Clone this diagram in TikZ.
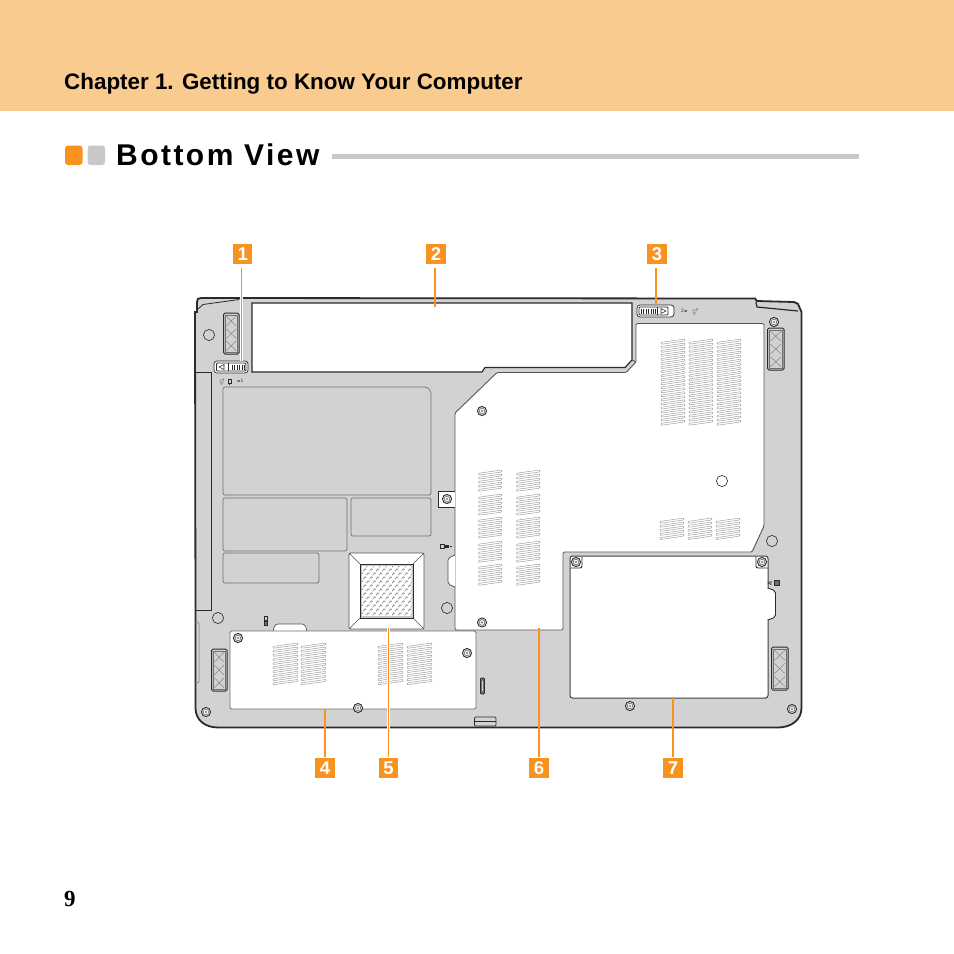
\documentclass[tikz,border=0pt]{standalone}
\usepackage{fontspec}
\setmainfont{Liberation Sans}
\newfontfamily\serifnum{Liberation Serif}
\newfontfamily\symfont{DejaVu Sans}
\definecolor{bandC}{HTML}{FACB8F}
\definecolor{orangeC}{HTML}{F7931E}
\definecolor{bodyC}{HTML}{D2D2D2}
\definecolor{lineC}{HTML}{2A2A2A}
\definecolor{bulletC}{HTML}{C8C8C8}
\definecolor{ventC}{HTML}{707070}
\newcommand{\ventblock}[5]{% x, y top-right, w, n, rise
  \foreach \i in {1,...,#4}{
    \pgfmathsetmacro{\yr}{#2+(\i-1)*4.05}
    \pgfmathsetmacro{\yl}{\yr+#5}
    \draw[ventline] (#1,\yl) -- (#1+#3,\yr) -- (#1+#3,\yr+1.9) -- (#1,\yl+1.9) -- cycle;
  }}
\newcommand{\screwdraw}[2]{%
  \draw[screwout] (#1,#2) circle (4.6);
  \draw[screwin] (#1,#2) circle (2.8);
  \fill[ventC] (#1,#2) circle (1.2);}
\newcommand{\plainhole}[2]{\draw[holeline] (#1,#2) circle (5.6);}
\newcommand{\footpad}[4]{% x1 y1 x2 y2
  \draw[padline] (#1,#2) rectangle (#3,#4);
  \draw[padthin] (#1+1.8,#2+1.8) rectangle (#3-1.8,#4-1.8);
  \pgfmathsetmacro{\hh}{(#4-#2-3.6)/3}
  \foreach \k in {0,1,2}{
    \draw[padcross] (#1+3,#2+1.8+\k*\hh+1.5) -- (#3-3,#2+1.8+\k*\hh+\hh-1.5);
    \draw[padcross] (#3-3,#2+1.8+\k*\hh+1.5) -- (#1+3,#2+1.8+\k*\hh+\hh-1.5);
  }}
\tikzset{
  ventline/.style={draw=ventC!85,line width=.35pt,fill=white,rounded corners=.8pt},
  screwout/.style={draw=lineC,line width=.8pt,fill=bodyC},
  screwin/.style={draw=ventC,line width=.6pt,fill=white},
  holeline/.style={draw=lineC,line width=.6pt,fill=none},
  padline/.style={draw=lineC,line width=1pt,fill=bodyC,rounded corners=1.5pt},
  padthin/.style={draw=ventC,line width=.4pt},
  padcross/.style={draw=ventC,line width=.35pt},
  panel/.style={draw=ventC,line width=.7pt,fill=bodyC,rounded corners=2pt},
  door/.style={draw=lineC!75,line width=.8pt,fill=white,rounded corners=1.5pt},
  numbox/.style={fill=orangeC,text=white,minimum size=19.5pt,inner sep=0pt,font=\bfseries\fontsize{18.5}{18.5}\selectfont},
  leader/.style={draw=orangeC,line width=1.1pt,preaction={draw=white,line width=2.2pt}},
  tinytext/.style={inner sep=0pt,text=lineC,font=\fontsize{5}{5}\selectfont},
}
\begin{document}
\begin{tikzpicture}[x=1pt,y=-1pt]
\useasboundingbox (0,0) rectangle (954,954);
\fill[white] (0,0) rectangle (954,954);
% header
\fill[bandC] (0,0) rectangle (954,111);
\node[anchor=base west,inner sep=0pt,font=\bfseries\fontsize{22.4}{23}\selectfont] (chapter) at (64,89) {Chapter 1. Getting to Know Your Computer};
\fill[orangeC,rounded corners=3pt] (65,145.5) rectangle (82.5,165);
\fill[bulletC,rounded corners=3pt] (87.5,145.5) rectangle (105,165);
\node[anchor=base west,inner sep=0pt,font=\bfseries\fontsize{30}{30}\selectfont\addfontfeature{LetterSpace=8.2}] (title) at (116,165) {Bottom View};
\fill[bulletC] (332,154) rectangle (859,158.5);
\node[anchor=base west,inner sep=0pt,font=\serifnum\bfseries\fontsize{23}{23}\selectfont] (pagenum) at (64,906) {9};
% body
\draw[line width=1.8pt,draw=lineC,fill=bodyC]
  (197,312) -- (197,302) .. controls (197,299) and (198,298) .. (201,298)
  -- (755,298.5) -- (757,301) -- (794,302) -- (798,304) -- (801.5,312) -- (801.5,708)
  .. controls (801.5,720) and (791,727.5) .. (778,727.5) -- (218,727.5)
  .. controls (205,727.5) and (195.5,720) .. (195.5,708) -- (195.5,622) -- (195,312) -- cycle;
\draw[line width=.8pt,draw=lineC] (197,310) -- (203,304.5) -- (239,299.5);
\draw[line width=1.2pt,draw=lineC] (756,302) -- (757,307) -- (798,311);
% left strip and bulge
\draw[line width=1pt,draw=lineC] (195,372) -- (211,372) -- (211,610) -- (195,610);
\draw[line width=.5pt,draw=ventC,rounded corners=2pt] (195,622) -- (199,622) -- (199,683) -- (195,683);
% battery window
\draw[line width=1.2pt,draw=lineC,fill=white] (252,303) -- (632,303) -- (632,360) -- (625,367.5) -- (485,367.5) -- (482,372) -- (252,372) -- cycle;
% main door 6
\draw[line width=.9pt,draw=lineC!80,fill=white,rounded corners=1.2pt]
  (455,413) -- (497,372.5) -- (626,372.5) -- (636,362) -- (636,323.5) -- (764,323.5) -- (764,526) -- (752,552) -- (563,552) -- (563,630) -- (455,630) -- cycle;
\draw[line width=.9pt,draw=lineC!80] (632,360) -- (636,362);
% door 6 latch bump
\draw[line width=.8pt,draw=lineC!80,fill=white,rounded corners=2pt] (455,555) -- (448,558) -- (448,584) -- (455,587);
% door 7
\draw[line width=1pt,draw=lineC!90,fill=white,rounded corners=2.5pt] (570,556) -- (768,556) -- (768,698) -- (570,698) -- cycle;
\draw[line width=.9pt,draw=lineC,fill=white,rounded corners=2pt] (768,588) -- (775.5,591) -- (775.5,617) -- (768,620);
\fill[white] (767,589) rectangle (769,619);
% door 4 bump and door 4
\draw[line width=.7pt,draw=lineC!80,fill=white,rounded corners=3pt] (273,631.5) -- (275,624) -- (305,624) -- (307,631.5);
\draw[door,draw=ventC] (230,631) rectangle (476,709);
% panels
\draw[panel] (223,387) -- (427,387) -- (431,391) -- (431,495) -- (223,495) -- cycle;
\draw[panel] (223,498) rectangle (347,551);
\draw[panel] (351,498) rectangle (431,536);
\draw[panel] (223,553) rectangle (319,583);
% speaker grille 5
\draw[line width=.7pt,draw=lineC!80,fill=white,rounded corners=1.5pt] (349,553) rectangle (424,629);
\draw[line width=.5pt,draw=lineC!80] (349,553) -- (360,564) (424,553) -- (413,564) (349,629) -- (360,618) (424,629) -- (413,618);
\draw[line width=1pt,draw=lineC,fill=bulletC] (360,564) rectangle (413,618);
\begin{scope}
\clip (361.5,566) rectangle (411.5,616);
\fill[white] (361.5,566) rectangle (411.5,616);
\foreach \r in {0,...,12}{
  \foreach \c in {0,...,8}{
    \pgfmathsetmacro{\xa}{360+\c*6.4+mod(\r,2)*3.2}
    \pgfmathsetmacro{\ya}{566+\r*4}
    \draw[draw=ventC,line width=.55pt] (\xa,\ya+1.2) -- (\xa+1.8,\ya-1.2) -- (\xa+3,\ya-.4);
  }
}
\end{scope}
% vents door 6 top-right
\ventblock{661}{339}{24}{21}{3.4}
\ventblock{689}{339}{24}{21}{3.4}
\ventblock{717}{339}{24}{21}{3.4}
% vents door 6 lower right
\ventblock{660}{518}{24}{5}{3.4}
\ventblock{688}{518}{24}{5}{3.4}
\ventblock{716}{518}{24}{5}{3.4}
% vents door 6 left
\foreach \yy in {470,494,517,541,564}{
  \ventblock{478.5}{\yy}{23.5}{5}{3.2}
  \ventblock{516.5}{\yy}{23.5}{5}{3.2}
}
% vents door 4
\ventblock{273}{643}{25}{10}{3.4}
\ventblock{301}{643}{25}{10}{3.4}
\ventblock{378}{643}{25}{10}{3.4}
\ventblock{407}{643}{25}{10}{3.4}
% foot pads
\footpad{223.5}{313}{239}{354}
\footpad{767.5}{328}{784}{370}
\footpad{211.5}{649}{227}{691}
\footpad{771.5}{647}{788}{690}
% door 7 screw corners
\draw[line width=.9pt,draw=lineC,fill=white,rounded corners=2pt] (570,568) -- (582,568) -- (582,556);
\draw[line width=.9pt,draw=lineC,fill=white,rounded corners=2pt] (756,556) -- (756,568) -- (768,568);
% screws
\screwdraw{482}{411}
\screwdraw{482}{622.5}
\screwdraw{238}{638}
\screwdraw{467}{653}
\screwdraw{358}{708}
\screwdraw{630}{706}
\screwdraw{792}{709}
\screwdraw{206}{712}
\screwdraw{774}{322}
\screwdraw{576}{562}
\screwdraw{762}{562}
% plain holes
\plainhole{209}{335}
\plainhole{218}{618}
\plainhole{447}{608}
\plainhole{772}{541}
\plainhole{722}{481}
% clip at door 6
\draw[line width=.8pt,draw=lineC,fill=white] (455,491) -- (438,491) -- (438,507) -- (455,507);
\screwdraw{447}{499}
% left latch
\draw[line width=.7pt,draw=lineC,fill=white,rounded corners=3pt] (214,361) rectangle (248,373);
\draw[line width=.9pt,draw=lineC,rounded corners=1pt] (216.5,363) rectangle (246,371);
\draw[line width=.6pt,draw=lineC] (228.5,363) -- (228.5,371);
\draw[line width=.6pt,draw=lineC] (224,364.5) -- (219,367) -- (224,369.5) -- cycle;
\foreach \q in {232,234.5,237,239.5,242,244}{\draw[line width=.4pt,draw=lineC] (\q,364.5) -- (\q,369.5);}
% right latch
\draw[line width=.7pt,draw=lineC,fill=white,rounded corners=3pt] (637,305) rectangle (674,317);
\draw[line width=.9pt,draw=lineC,rounded corners=1pt] (639,307) rectangle (668,315);
\draw[line width=.6pt,draw=lineC] (657.5,307) -- (657.5,315);
\draw[line width=.6pt,draw=lineC] (661,308.5) -- (666,311) -- (661,313.5) -- cycle;
\foreach \q in {641,643.5,646,648.5,651,653.5,655.5}{\draw[line width=.4pt,draw=lineC] (\q,308.5) -- (\q,313.5);}
% small print
\node[tinytext] (markL) at (240,381) {{\symfont\fontsize{4}{4}\selectfont ◄}\,1};
\node[tinytext] (markR) at (684.5,311) {2\,{\symfont\fontsize{4}{4}\selectfont ►}};
\draw[line width=.4pt,draw=lineC] (220,380) rectangle (223,383) (221.5,383) -- (221.5,385) (223,380) -- (224,378.5);
\draw[line width=.4pt,draw=lineC] (228,379) rectangle (231,383) (229.5,383) -- (229.5,385);
\draw[line width=.4pt,draw=lineC] (693,310) rectangle (696,313) (694.5,313) -- (694.5,315) (696,310) -- (698,308.5);
% small marks
\draw[line width=.7pt,draw=lineC] (440,544.5) rectangle (444,548);
\fill[lineC] (445,545) rectangle (449,548);
\fill[lineC] (450,546) rectangle (452,547);
\draw[line width=.6pt,draw=lineC] (264.5,616) rectangle (267.5,620);
\draw[line width=.6pt,draw=lineC,fill=ventC] (264.5,621.5) rectangle (267.5,625);
\draw[line width=.5pt,draw=lineC] (768,583) -- (771,581.5) -- (771,584.5) -- cycle;
\draw[line width=.5pt,draw=lineC,fill=ventC] (774,580.5) rectangle (779,585.5);
% slots
\draw[line width=.7pt,draw=lineC,rounded corners=1pt] (474.5,717) rectangle (496,726);
\draw[line width=.5pt,draw=lineC] (474.5,721) -- (496,721);
\draw[line width=.8pt,draw=lineC,rounded corners=1pt,fill=ventC] (480.5,678) rectangle (484.5,694);
\fill[bodyC] (481.7,681) rectangle (483.3,691);
% labels
\node[numbox] (n1) at (242.7,254) {1};
\node[numbox] (n2) at (436,254) {2};
\node[numbox] (n3) at (657,254) {3};
\node[numbox] (n4) at (325,768) {4};
\node[numbox] (n5) at (388.5,768) {5};
\node[numbox] (n6) at (539,768) {6};
\node[numbox] (n7) at (673,768) {7};
\coordinate (e1) at (241.5,361);
\coordinate (e2) at (435,307);
\coordinate (e3) at (656,304);
\coordinate (e4) at (325,709);
\coordinate (e5) at (388.5,628);
\coordinate (e6) at (539,628);
\coordinate (e7) at (673,697);
\draw[leader,shorten <=4pt] (n1.south -| e1) -- (e1);
\draw[leader,shorten <=4pt] (n2.south -| e2) -- (e2);
\draw[leader,shorten <=4pt] (n3.south -| e3) -- (e3);
\draw[leader,shorten <=1pt] (n4.north -| e4) -- (e4);
\draw[leader,shorten <=1pt] (n5.north -| e5) -- (e5);
\draw[leader,shorten <=1pt] (n6.north -| e6) -- (e6);
\draw[leader,shorten <=1pt] (n7.north -| e7) -- (e7);
\end{tikzpicture}
\end{document}
